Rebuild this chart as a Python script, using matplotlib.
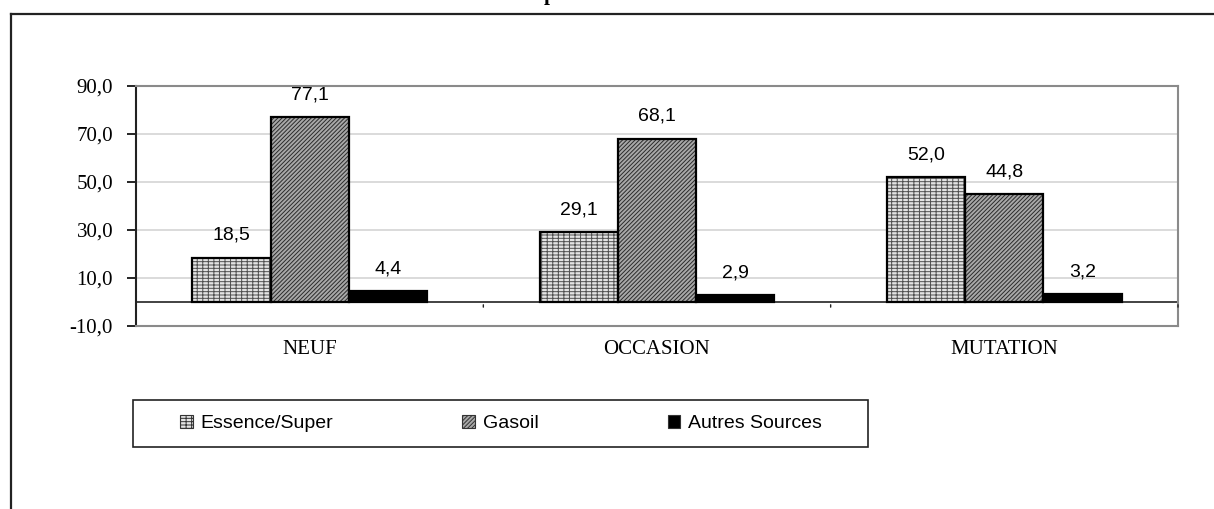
import numpy as np
import matplotlib
matplotlib.use("Agg")
import matplotlib.pyplot as plt
from matplotlib.lines import Line2D
from matplotlib.patches import Patch, Rectangle

categories = ["NEUF", "OCCASION", "MUTATION"]
series_names = ["Essence/Super", "Gasoil", "Autres Sources"]
essence = [18.5, 29.1, 52.0]
gasoil = [77.1, 68.1, 44.8]
autres = [4.4, 2.9, 3.2]
y_ticks = [-10, 10, 30, 50, 70, 90]

plt.rcParams["hatch.linewidth"] = 0.7

W, H = 1214, 509


def fr(v):
    return f"{v:.1f}".replace(".", ",")


def main():
    fig = plt.figure(figsize=(W / 100, H / 100), dpi=100)
    ax = fig.add_axes([136 / W, 1 - 326 / H, (1178 - 136) / W, (326 - 86) / H])

    x = np.arange(len(categories))
    width = 0.225
    styles = [
        dict(facecolor="#e4e4e4", hatch="-----|||", edgecolor="#505050"),
        dict(facecolor="#a8a8a8", hatch="////////", edgecolor="#2a2a2a"),
        dict(facecolor="black", hatch=None, edgecolor="black"),
    ]
    all_series = [essence, gasoil, autres]

    for i, (vals, st) in enumerate(zip(all_series, styles)):
        pos = x + (i - 1) * width
        bars = ax.bar(pos, vals, width, facecolor=st["facecolor"], hatch=st["hatch"],
                      edgecolor=st["edgecolor"], linewidth=0, zorder=3)
        # outline drawn on top so the hatch keeps its own grey
        ax.bar(pos, vals, width, facecolor="none", edgecolor="black", linewidth=1.6, zorder=4)
        for b, v in zip(bars, vals):
            ax.annotate(fr(v), (b.get_x() + b.get_width() / 2, v), xytext=(0, 10),
                        textcoords="offset points", ha="center", va="bottom",
                        fontsize=14, family="Liberation Sans")

    ax.set_xlim(-0.5, len(categories) - 0.5)
    ax.set_ylim(-10, 90)
    ax.set_yticks(y_ticks)
    ax.set_yticklabels([fr(t) for t in y_ticks], family="Liberation Serif", fontsize=15)
    ax.set_xticks(x)
    ax.set_xticklabels(categories, family="Liberation Serif", fontsize=15)
    ax.tick_params(axis="x", length=0, pad=10)
    ax.tick_params(axis="y", length=6.5, width=1.2, pad=10, direction="out")

    for t in y_ticks[1:]:
        ax.axhline(t, color="#d4d4d4", linewidth=1.2, zorder=1)
    ax.axhline(0, color="#222222", linewidth=1.2, zorder=2)

    # category separator ticks on the zero line
    for b in np.arange(len(categories) + 1) - 0.5:
        ax.annotate("", xy=(b, 0), xytext=(b, -3.3), xycoords="data",
                    arrowprops=dict(arrowstyle="-", color="#222222", lw=1))

    for side in ["top", "right", "bottom"]:
        ax.spines[side].set_color("#8a8a8a")
        ax.spines[side].set_linewidth(1.5)
    ax.spines["left"].set_color("#222222")
    ax.spines["left"].set_linewidth(1.5)

    # legend box
    fig.add_artist(Rectangle((133 / W, 1 - 447 / H), (868 - 133) / W, 47 / H,
                             transform=fig.transFigure, facecolor="none",
                             edgecolor="#222222", linewidth=1.2))
    handles = [Patch(facecolor=st["facecolor"], hatch=st["hatch"],
                     edgecolor="#333333", linewidth=0.8) for st in styles]
    fig.legend(handles, series_names, loc="center left", ncol=3, mode="expand",
               bbox_to_anchor=(180 / W, 1 - 437 / H, (822 - 180) / W, 27 / H),
               frameon=False, borderaxespad=0, borderpad=0,
               prop={"family": "Liberation Sans", "size": 14},
               handlelength=0.65, handleheight=0.65, handletextpad=0.4)

    # outer chart frame (cropped at right and bottom)
    fig.add_artist(Line2D([11 / W, 1], [1 - 14 / H, 1 - 14 / H],
                          transform=fig.transFigure, color="#222222", linewidth=1.6))
    fig.add_artist(Line2D([11 / W, 11 / W], [0, 1 - 14 / H],
                          transform=fig.transFigure, color="#222222", linewidth=1.6))
    # cropped chart title, only the descender shows
    fig.text(550 / W, 1.0, "p", ha="center", va="baseline",
             family="Liberation Serif", fontsize=15, fontweight="bold")

    fig.savefig("out.png", dpi=100, facecolor="white")


if __name__ == "__main__":
    main()
